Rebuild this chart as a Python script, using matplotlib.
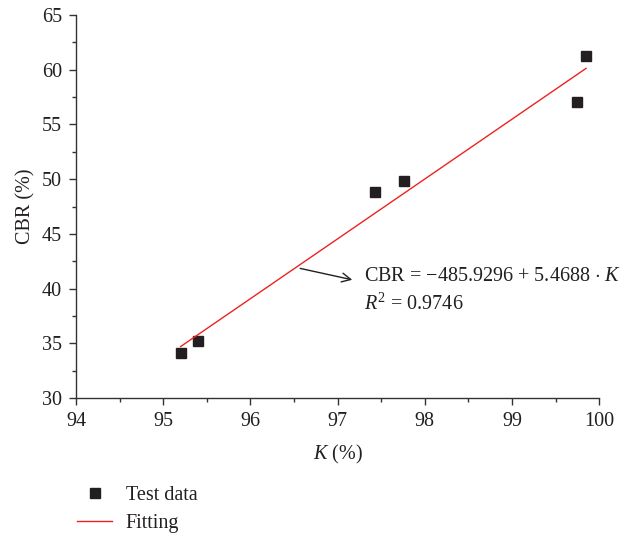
import matplotlib
matplotlib.use('Agg')
import matplotlib.pyplot as plt
import numpy as np
from matplotlib.ticker import MultipleLocator

# test data
k_values = [95.20, 95.40, 97.43, 97.76, 99.75, 99.85]
cbr_values = [34.1, 35.2, 48.8, 49.8, 57.1, 61.3]

# linear fit given on the chart
intercept = -485.9296
slope = 5.4688
fit_k = np.array([min(k_values), max(k_values)])
fit_cbr = intercept + slope * fit_k

plt.rcParams['font.family'] = ['Liberation Serif', 'DejaVu Serif']
plt.rcParams['mathtext.fontset'] = 'custom'
plt.rcParams['mathtext.rm'] = 'Liberation Serif'
plt.rcParams['mathtext.it'] = 'Liberation Serif:italic'

fs = 14.5
ink = '#231f20'

fig = plt.figure(figsize=(6.3, 5.39), dpi=100)
ax = fig.add_axes([0.1206, 0.2616, 0.8304, 0.7104])

pts, = ax.plot(k_values, cbr_values, 's', color=ink, markersize=7,
               linestyle='none', label='Test data')
fit, = ax.plot(fit_k, fit_cbr, color='#ee2222', linewidth=1.0, label='Fitting')

ax.set_xlim(94, 100)
ax.set_ylim(30, 65)
ax.xaxis.set_major_locator(MultipleLocator(1))
ax.xaxis.set_minor_locator(MultipleLocator(0.5))
ax.yaxis.set_major_locator(MultipleLocator(5))
ax.yaxis.set_minor_locator(MultipleLocator(2.5))

for side in ('top', 'right'):
    ax.spines[side].set_visible(False)
for side in ('left', 'bottom'):
    ax.spines[side].set_color('#333333')
    ax.spines[side].set_linewidth(1.0)

ax.tick_params(which='major', direction='out', length=5, width=1.0,
               color='#333333', labelsize=fs, labelcolor=ink, pad=5)
ax.tick_params(which='minor', direction='out', length=3, width=1.0,
               color='#333333')

ax.set_xlabel(r'$K$ (%)', fontsize=fs, color=ink, labelpad=9)
ax.set_ylabel('CBR (%)', fontsize=fs, color=ink, labelpad=5)

ax.annotate('', xy=(97.2, 40.75), xytext=(96.54, 41.9),
            arrowprops=dict(arrowstyle='->', color=ink, lw=1.0,
                            mutation_scale=16))
ax.text(97.3, 40.7, r'CBR = $-$485.9296 + 5.4688 $\cdot$ $K$',
        fontsize=fs, color=ink, va='baseline')
ax.text(97.3, 38.1, r'$R^2$ = 0.9746', fontsize=fs, color=ink,
        va='baseline')

fig.legend(handles=[pts, fit], loc='upper left',
           bbox_to_anchor=(0.1225, 0.098), frameon=False, fontsize=fs,
           handlelength=1.75, handletextpad=0.65, labelspacing=0.45,
           labelcolor=ink, borderaxespad=0, borderpad=0)

fig.savefig('out.png', dpi=100)
